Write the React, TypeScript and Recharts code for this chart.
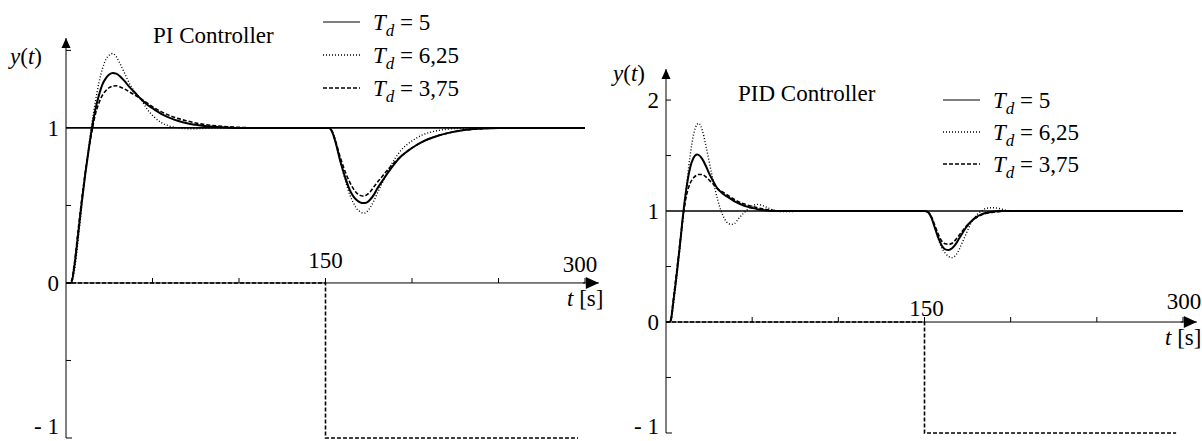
import { LineChart, Line, XAxis, YAxis, ReferenceDot, ReferenceLine } from "recharts"

const FONT = '"Liberation Serif", serif'
const TXT = { fontFamily: FONT, fontSize: 23 }

// PI controller responses (left plot)
const piTime = [0, 2, 3, 5, 7, 9, 11, 13, 15, 17,
  19, 21, 23, 25, 27, 29, 31, 34, 37, 40,
  43, 47, 51, 55, 60, 65, 70, 75, 80, 90,
  100, 110, 120, 135, 150, 152, 154, 156, 158, 160,
  162, 164, 166, 168, 170, 172, 174, 176, 178, 180,
  183, 186, 190, 194, 198, 202, 206, 210, 215, 220,
  225, 230, 240, 250, 260, 280, 300]
const piTd5 = [0, 0, 0, 0.12, 0.31, 0.51, 0.69, 0.85, 1.0, 1.12,
  1.21, 1.28, 1.32, 1.345, 1.355, 1.35, 1.335, 1.3, 1.26, 1.225,
  1.19, 1.15, 1.12, 1.09, 1.065, 1.045, 1.03, 1.02, 1.012, 1.005,
  1, 1, 1, 1, 1, 1, 0.97, 0.9, 0.81, 0.73,
  0.66, 0.6, 0.56, 0.535, 0.52, 0.515, 0.52, 0.54, 0.57, 0.61,
  0.66, 0.71, 0.77, 0.82, 0.855, 0.885, 0.91, 0.93, 0.95, 0.965,
  0.977, 0.986, 0.995, 1, 1, 1, 1]
const piTd625 = [0, 0, 0, 0.09, 0.28, 0.49, 0.69, 0.87, 1.03, 1.17,
  1.29, 1.38, 1.44, 1.47, 1.48, 1.46, 1.42, 1.35, 1.28, 1.23,
  1.19, 1.12, 1.07, 1.035, 1.012, 1.0, 0.995, 0.995, 0.997, 1,
  1, 1, 1, 1, 1, 1, 0.975, 0.9, 0.81, 0.72,
  0.64, 0.57, 0.52, 0.48, 0.46, 0.45, 0.46, 0.49, 0.53, 0.58,
  0.65, 0.72, 0.8, 0.86, 0.9, 0.93, 0.955, 0.97, 0.983, 0.991,
  0.996, 0.998, 1, 1, 1, 1, 1]
const piTd375 = [0, 0, 0.01, 0.14, 0.34, 0.53, 0.7, 0.85, 0.98, 1.09,
  1.16, 1.21, 1.24, 1.26, 1.27, 1.272, 1.265, 1.25, 1.23, 1.21,
  1.19, 1.16, 1.13, 1.105, 1.08, 1.06, 1.045, 1.032, 1.022, 1.01,
  1.004, 1, 1, 1, 1, 1, 0.975, 0.91, 0.83, 0.76,
  0.7, 0.65, 0.61, 0.58, 0.565, 0.56, 0.57, 0.59, 0.62, 0.65,
  0.69, 0.73, 0.78, 0.82, 0.855, 0.885, 0.91, 0.93, 0.95, 0.965,
  0.977, 0.985, 0.995, 1, 1, 1, 1]

// PID controller responses (right plot)
const pidTime = [0, 2, 3, 4, 6, 8, 10, 12, 14, 16,
  18, 19, 21, 23, 25, 27, 30, 32, 34, 36,
  38, 40, 42, 45, 47, 50, 53, 56, 59, 63,
  68, 75, 85, 100, 120, 150, 152, 154, 156, 158,
  160, 162, 164, 166, 168, 170, 172, 174, 176, 178,
  180, 183, 186, 190, 194, 198, 203, 210, 230, 260,
  300]
const pidTd5 = [0, 0, 0.03, 0.15, 0.4, 0.68, 0.98, 1.22, 1.39, 1.48,
  1.51, 1.505, 1.47, 1.41, 1.34, 1.28, 1.2, 1.17, 1.145, 1.125,
  1.105, 1.085, 1.07, 1.05, 1.04, 1.028, 1.017, 1.009, 1.004, 1,
  1, 1, 1, 1, 1, 1, 0.99, 0.94, 0.85, 0.76,
  0.69, 0.655, 0.65, 0.665, 0.7, 0.75, 0.8, 0.85, 0.89, 0.92,
  0.945, 0.97, 0.985, 0.995, 1, 1, 1, 1, 1, 1,
  1]
const pidTd625 = [0, 0, 0.01, 0.12, 0.38, 0.66, 0.96, 1.24, 1.5, 1.69,
  1.78, 1.79, 1.73, 1.6, 1.45, 1.3, 1.1, 1.0, 0.93, 0.89,
  0.88, 0.89, 0.93, 0.98, 1.01, 1.045, 1.06, 1.05, 1.03, 1.005,
  0.995, 0.997, 1, 1, 1, 1, 0.99, 0.94, 0.85, 0.75,
  0.67, 0.62, 0.59, 0.58, 0.6, 0.65, 0.72, 0.79, 0.86, 0.92,
  0.96, 1.0, 1.025, 1.03, 1.02, 1.005, 1, 1, 1, 1,
  1]
const pidTd375 = [0, 0, 0.04, 0.17, 0.43, 0.7, 0.96, 1.15, 1.25, 1.3,
  1.325, 1.33, 1.33, 1.31, 1.28, 1.25, 1.2, 1.18, 1.16, 1.14,
  1.12, 1.1, 1.085, 1.065, 1.055, 1.042, 1.03, 1.02, 1.012, 1.005,
  1, 1, 1, 1, 1, 1, 0.99, 0.95, 0.87, 0.79,
  0.73, 0.705, 0.7, 0.71, 0.74, 0.78, 0.82, 0.86, 0.89, 0.92,
  0.94, 0.965, 0.98, 0.99, 0.997, 1, 1, 1, 1, 1,
  1]

// setpoint and load disturbance step
const refTime = [0, 300]
const refValue = [1, 1]
const stepTime = [0, 150, 150, 296]
const stepValue = [0, 0, -1, -1]

const xTicks = [50, 100, 150, 200, 250, 300]
const xLabels = [150, 300]
const legendValues = ["5", "6,25", "3,75"]

const zip = (ts: number[], ys: number[]) => ts.map((t, i) => ({ t, y: ys[i] }))

// solid / dotted / dashed, in legend order
const styles = [
  { width: 2, dash: undefined as string | undefined },
  { width: 1.4, dash: "1 2" },
  { width: 1.6, dash: "4 2" },
]

interface PanelProps {
  left: number
  title: string
  time: number[]
  curves: number[][]
  yDomain: [number, number]
  yTicks: number[]
  yLabels: number[]
  margin: { top: number; right: number; bottom: number; left: number }
  titlePos: [number, number]
  legendPos: [number, number, number]
  yLabelPos: [number, number]
  tLabelPos: [number, number]
  xLabelOffsets: [number, number][]
}

function Panel(p: PanelProps) {
  const W = 601
  const H = 441
  return (
    <div style={{ position: "absolute", left: p.left, top: 0, width: W, height: H }}>
      <LineChart width={W} height={H} margin={p.margin}>
        <XAxis type="number" dataKey="t" domain={[0, 300]} hide />
        <YAxis type="number" domain={p.yDomain} hide />
        <ReferenceLine x={0} stroke="#000" strokeWidth={1} />
        <ReferenceLine y={0} stroke="#000" strokeWidth={1} />

        <Line data={zip(refTime, refValue)} dataKey="y" type="linear" stroke="#000" strokeWidth={1.6}
          dot={false} activeDot={false} isAnimationActive={false} />
        {p.curves.map((ys, i) => (
          <Line key={i} data={zip(p.time, ys)} dataKey="y" type="monotone" stroke="#000"
            strokeWidth={styles[i].width} strokeDasharray={styles[i].dash}
            dot={false} activeDot={false} isAnimationActive={false} />
        ))}
        <Line data={zip(stepTime, stepValue)} dataKey="y" type="linear" stroke="#000" strokeWidth={1.6}
          strokeDasharray="4 2" dot={false} activeDot={false} isAnimationActive={false} />

        {xTicks.map((v) => {
          const li = xLabels.indexOf(v)
          return (
            <ReferenceDot key={`x${v}`} x={v} y={0} r={0} ifOverflow="visible"
              shape={(s: any) => (
                <g>
                  <line x1={s.cx} y1={s.cy} x2={s.cx} y2={s.cy - 5} stroke="#000" strokeWidth={1} />
                  {li >= 0 && (
                    <text x={s.cx + p.xLabelOffsets[li][0]} y={s.cy - p.xLabelOffsets[li][1]}
                      textAnchor="middle" fill="#000" style={TXT}>{v}</text>
                  )}
                </g>
              )} />
          )
        })}
        {p.yTicks.map((v) => (
          <ReferenceDot key={`y${v}`} x={0} y={v} r={0} ifOverflow="visible"
            shape={(s: any) => (
              <g>
                {v !== 0 && v !== 1 && (
                  <line x1={s.cx} y1={s.cy} x2={s.cx + (v === p.yDomain[0] ? 6 : 5)} y2={s.cy}
                    stroke="#000" strokeWidth={1} />
                )}
                {p.yLabels.includes(v) && (
                  <text x={s.cx - 7} y={Math.min(s.cy + 8, H - 7)} textAnchor="end" fill="#000" style={TXT}>
                    {v < 0 ? `- ${Math.abs(v)}` : String(v)}
                  </text>
                )}
              </g>
            )} />
        ))}
        <ReferenceDot x={0} y={p.yDomain[1]} r={0} ifOverflow="visible"
          shape={(s: any) => (
            <polygon points={`${s.cx},${s.cy} ${s.cx - 4.5},${s.cy + 10} ${s.cx + 4.5},${s.cy + 10}`} fill="#000" />
          )} />
        <ReferenceDot x={308} y={0} r={0} ifOverflow="visible"
          shape={(s: any) => (
            <g>
              <line x1={s.cx - 16} y1={s.cy} x2={s.cx} y2={s.cy} stroke="#000" strokeWidth={1} />
              <polygon points={`${s.cx},${s.cy} ${s.cx - 13},${s.cy - 6} ${s.cx - 13},${s.cy + 6}`} fill="#000" />
            </g>
          )} />
      </LineChart>

      <svg width={W} height={H} style={{ position: "absolute", left: 0, top: 0, pointerEvents: "none", overflow: "visible" }}>
        <text x={p.titlePos[0]} y={p.titlePos[1]} fill="#000" style={TXT}>{p.title}</text>
        <text x={p.yLabelPos[0]} y={p.yLabelPos[1]} fill="#000" style={TXT}>
          <tspan style={{ fontStyle: "italic" }}>y</tspan>
          <tspan>(</tspan>
          <tspan style={{ fontStyle: "italic" }}>t</tspan>
          <tspan>)</tspan>
        </text>
        <text x={p.tLabelPos[0]} y={p.tLabelPos[1]} fill="#000" style={TXT}>
          <tspan style={{ fontStyle: "italic" }}>t</tspan>
          <tspan>{" [s]"}</tspan>
        </text>
        {legendValues.map((v, i) => {
          const [lx, ly, gap] = p.legendPos
          const y = ly + i * gap
          return (
            <g key={v}>
              <line x1={lx} x2={lx + 37} y1={y - 8} y2={y - 8} stroke="#000"
                strokeWidth={i === 0 ? 1 : 1.3} strokeDasharray={styles[i].dash} />
              <text x={lx + 50} y={y} fill="#000" style={TXT}>
                <tspan style={{ fontStyle: "italic" }}>T</tspan>
                <tspan style={{ fontStyle: "italic", fontSize: 17 }} dy={6}>d</tspan>
                <tspan dy={-6}>{` = ${v}`}</tspan>
              </text>
            </g>
          )
        })}
      </svg>
    </div>
  )
}

export default function App() {
  return (
    <div style={{ position: "absolute", left: 0, top: 0, width: 1202, height: 441, background: "#fff", fontFamily: FONT }}>
      <Panel
        left={0}
        title="PI Controller"
        time={piTime}
        curves={[piTd5, piTd625, piTd375]}
        yDomain={[-1, 1.58]}
        yTicks={[-1, -0.5, 0, 0.5, 1, 1.5]}
        yLabels={[-1, 0, 1]}
        margin={{ top: 38, right: 16, bottom: 3, left: 66 }}
        titlePos={[153, 43]}
        legendPos={[323, 30, 33]}
        yLabelPos={[10, 64]}
        tLabelPos={[567, 306]}
        xLabelOffsets={[[0, 15], [-5, 11]]}
      />
      <Panel
        left={601}
        title="PID Controller"
        time={pidTime}
        curves={[pidTd5, pidTd625, pidTd375]}
        yDomain={[-1, 2.28]}
        yTicks={[-1, -0.5, 0, 0.5, 1, 1.5, 2]}
        yLabels={[-1, 0, 1, 2]}
        margin={{ top: 69, right: 19, bottom: 8, left: 65 }}
        titlePos={[137, 101]}
        legendPos={[342, 108, 32]}
        yLabelPos={[12, 81]}
        tLabelPos={[564, 345]}
        xLabelOffsets={[[2, 6], [1, 13]]}
      />
    </div>
  )
}
